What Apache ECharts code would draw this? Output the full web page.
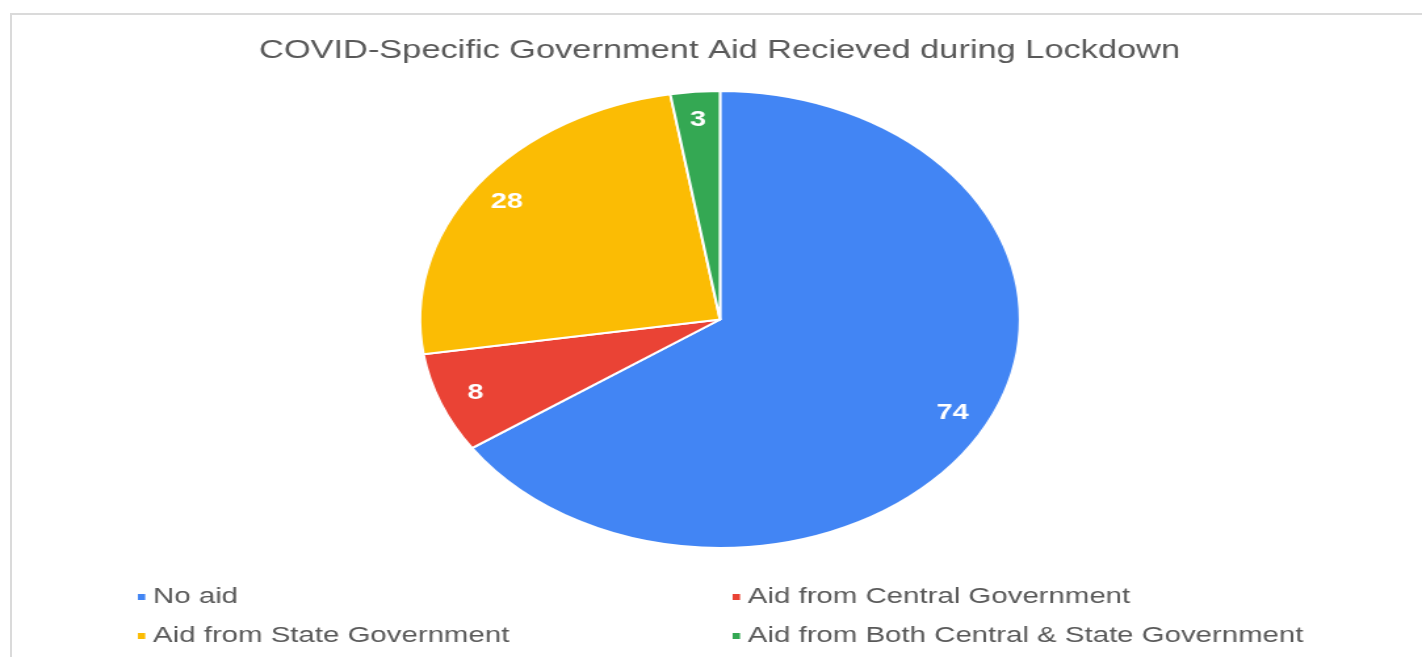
<!DOCTYPE html>
<html>
<head>
<meta charset="utf-8">
<script src="https://cdn.jsdelivr.net/npm/echarts@6/dist/echarts.min.js"></script>
<style>
  html, body { margin: 0; padding: 0; background: #fff; overflow: hidden; }
  #frame {
    position: absolute; left: 10px; top: 13px; width: 1440px; height: 700px;
    border: 2px solid #dadada; box-sizing: border-box;
  }
  /* the reference is a horizontally stretched screenshot, so the chart is drawn narrow and stretched */
  #chart {
    position: absolute; left: 0; top: 0; width: 1083px; height: 657px;
    transform: scaleX(1.313); transform-origin: 0 0;
  }
</style>
</head>
<body>
<div id="frame"></div>
<div id="chart"></div>
<script>
// data
const categories = [
  "No aid",
  "Aid from Central Government",
  "Aid from State Government",
  "Aid from Both Central & State Government",
];
const values = [74, 8, 28, 3];
const colors = ["#4285f4", "#ea4335", "#fbbc04", "#34a853"];
const titleText = "COVID-Specific Government Aid Recieved during Lockdown";

const legendLeft = [categories[0], categories[2]];
const legendRight = [categories[1], categories[3]];

const chart = echarts.init(document.getElementById("chart"));

const pieData = categories.map((name, i) => ({
  name: name,
  value: values[i],
  itemStyle: { color: colors[i] },
}));

const legendText = {
  color: "#595959",
  fontSize: 22.4,
  fontFamily: "Liberation Sans, Arial, sans-serif",
  lineHeight: 22,
  padding: [0, 0, 0, 0],
};

const center = [548.4, 319.5];

const option = {
  animation: false,
  title: {
    text: titleText,
    left: 543,
    textAlign: "center",
    top: 33,
    textStyle: {
      color: "#595959",
      fontSize: 26.2,
      fontWeight: "normal",
      fontFamily: "Liberation Sans, Arial, sans-serif",
    },
  },
  legend: [
    {
      data: legendLeft,
      orient: "vertical",
      left: 103,
      top: 586,
      icon: "rect",
      itemWidth: 7.6,
      itemHeight: 8,
      itemGap: 17,
      padding: 0,
      textStyle: legendText,
      selectedMode: false,
    },
    {
      data: legendRight,
      orient: "vertical",
      left: 556,
      top: 586,
      icon: "rect",
      itemWidth: 7.6,
      itemHeight: 8,
      itemGap: 17,
      padding: 0,
      textStyle: legendText,
      selectedMode: false,
    },
  ],
  series: [
    {
      name: "Aid",
      type: "pie",
      center: center,
      radius: [0, 228.5],
      startAngle: 90,
      clockwise: true,
      silent: true,
      itemStyle: { borderColor: "#fff", borderWidth: 2 },
      label: { show: false },
      labelLine: { show: false },
      data: pieData,
    },
    {
      // transparent ring, only used to put the value labels near the rim
      name: "labels",
      type: "pie",
      center: center,
      radius: [166, 228.5],
      startAngle: 90,
      clockwise: true,
      silent: true,
      legendHoverLink: false,
      itemStyle: { color: "rgba(0,0,0,0)", borderWidth: 0 },
      label: {
        show: true,
        position: "inside",
        formatter: "{c}",
        color: "#fff",
        fontSize: 22,
        fontWeight: "bold",
        fontFamily: "Liberation Sans, Arial, sans-serif",
      },
      labelLine: { show: false },
      data: categories.map((name, i) => ({ name: name + " ", value: values[i] })),
    },
  ],
};

chart.setOption(option);
</script>
</body>
</html>
